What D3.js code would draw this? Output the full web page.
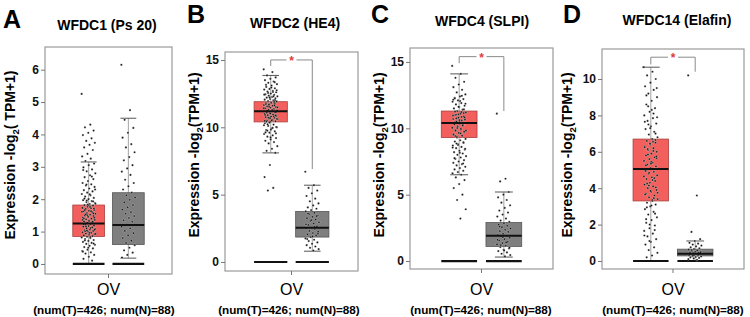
<!DOCTYPE html>
<html>
<head>
<meta charset="utf-8">
<script src="https://cdn.jsdelivr.net/npm/d3@7"></script>
<style>
  html, body { margin: 0; padding: 0; background: #fff; }
  #chart-container { width: 750px; height: 317px; }
</style>
</head>
<body>
<div id="chart-container"></div>
<script>
// =====================
// Data
// =====================
const LETTERS = ["A", "B", "C", "D"];
const TITLES = ["WFDC1 (Ps 20)", "WFDC2 (HE4)", "WFDC4 (SLPI)", "WFDC14 (Elafin)"];
const YLABEL_TAIL = ["( TPM+1)", "(TPM+1)", "(TPM+1)", "(TPM+1)"];
const GROUPS = ["T", "N"];
const CANCER = "OV";
const CAPTION = "(num(T)=426; num(N)=88)";

const Y_DOMAINS = [[-0.31, 6.7], [-0.67, 15.59], [-0.6, 16.05], [-0.44, 11.65]];
const Y_TICKS = [[0, 1, 2, 3, 4, 5, 6], [0, 5, 10, 15], [0, 5, 10, 15], [0, 2, 4, 6, 8, 10]];

// box stats: [lowWhisker, q1, median, q3, highWhisker]
const BOX_T = [[0, 0.85, 1.25, 1.82, 3.15], [8.1, 10.4, 11.2, 11.9, 13.85], [6.5, 9.3, 10.4, 11.3, 14.1], [0, 3.3, 5.05, 6.7, 10.65]];
const BOX_N = [[0.18, 0.6, 1.2, 2.2, 4.5], [0.8, 1.85, 2.55, 3.75, 5.7], [0.3, 1.1, 1.9, 2.9, 5.2], [0, 0.28, 0.4, 0.65, 1.1]];

// significance bracket: [left leg end, top, right leg end] (null = none)
const BRACKETS = [null, [14.55, 15.0, 6.9], [14.9, 15.4, 11.3], [10.8, 11.2, 10.4]];

// jittered sample points
const PTS_A_T = [5.25, 4.3, 4.22, 4.12, 4.05, 3.98, 3.88, 3.8, 3.74, 3.68, 3.6, 3.52, 3.4, 3.32, 3.25, 3.18, 3.1, 3.05, 2.98, 2.92, 2.86, 2.8, 2.74, 2.68, 2.62, 2.56, 2.5, 2.46, 2.42, 2.38, 2.33, 2.28, 2.24, 2.2, 2.16, 2.12, 2.08, 2.04, 2.0, 1.97, 1.94, 1.91, 1.88, 1.85, 1.82, 1.8, 1.77, 1.74, 1.72, 1.7, 1.67, 1.64, 1.62, 1.6, 1.57, 1.55, 1.52, 1.5, 1.48, 1.45, 1.43, 1.4, 1.38, 1.36, 1.33, 1.31, 1.29, 1.27, 1.25, 1.23, 1.21, 1.19, 1.17, 1.15, 1.12, 1.1, 1.08, 1.06, 1.04, 1.02, 1.0, 0.98, 0.96, 0.94, 0.92, 0.9, 0.88, 0.86, 0.84, 0.82, 0.8, 0.77, 0.74, 0.71, 0.68, 0.65, 0.62, 0.59, 0.56, 0.52, 0.48, 0.44, 0.4, 0.36, 0.32, 0.28, 0.22, 0.16, 0.1,
  1.96, 1.86, 1.76, 1.66, 1.56, 1.46, 1.36, 1.26, 1.16, 1.06, 0.96, 1.41, 1.31, 1.51, 1.61, 1.11, 1.01, 1.71, 1.81,
  2.9, 2.7, 2.45, 2.3, 2.15, 2.02, 1.93, 1.83, 1.73, 1.63, 1.53, 1.43, 1.33, 1.23, 1.13, 1.03, 0.93, 0.83, 0.73, 0.63, 0.5, 0.38];
const PTS_A_N = [6.15, 4.75, 4.45, 4.2, 4.05, 3.9, 3.7, 3.6, 3.45, 3.3, 3.2, 3.05, 2.95, 2.85, 2.75, 2.6, 2.5, 2.4, 2.3, 2.2, 2.12, 2.05, 1.98, 1.9, 1.82, 1.75, 1.68, 1.6, 1.55, 1.48, 1.42, 1.35, 1.3, 1.22, 1.15, 1.1, 1.02, 0.95, 0.88, 0.8, 0.72, 0.65, 0.58, 0.5, 0.42, 0.35, 0.28, 0.2];
const PTS_B_T = [14.3, 14.1, 13.85, 13.7, 13.6, 13.5, 13.4, 13.3, 13.2, 13.1, 13.0, 12.9, 12.85, 12.8, 12.7, 12.65, 12.6, 12.5, 12.45, 12.4, 12.35, 12.3, 12.25, 12.2, 12.15, 12.1, 12.05, 12.0, 11.95, 11.9, 11.85, 11.8, 11.75, 11.7, 11.65, 11.6, 11.55, 11.5, 11.45, 11.4, 11.35, 11.3, 11.25, 11.2, 11.15, 11.1, 11.05, 11.0, 10.95, 10.9, 10.85, 10.8, 10.75, 10.7, 10.65, 10.6, 10.55, 10.5, 10.45, 10.4, 10.3, 10.2, 10.1, 10.0, 9.9, 9.8, 9.7, 9.6, 9.5, 9.4, 9.3, 9.2, 9.1, 9.0, 8.9, 8.8, 8.6, 8.4, 8.25, 8.1, 7.2, 6.3, 5.5, 5.3,
  11.92, 11.82, 11.72, 11.62, 11.52, 11.42, 11.32, 11.22, 11.12, 11.02, 10.92, 10.82, 10.72, 10.62, 10.52, 10.42, 12.02, 12.22, 12.42, 12.62, 10.22, 10.02, 9.82, 9.62,
  11.88, 11.68, 11.48, 11.28, 11.08, 10.88, 10.68, 10.48, 12.3, 12.55, 12.75, 12.95, 13.15, 13.35, 10.35, 10.15, 9.95, 9.75, 9.55, 9.25];
const PTS_B_N = [6.7, 5.7, 5.5, 5.3, 5.1, 4.9, 4.7, 4.5, 4.35, 4.2, 4.05, 3.95, 3.85, 3.75, 3.65, 3.55, 3.45, 3.35, 3.25, 3.15, 3.05, 2.95, 2.85, 2.75, 2.65, 2.55, 2.5, 2.45, 2.35, 2.25, 2.15, 2.05, 1.95, 1.85, 1.75, 1.65, 1.55, 1.45, 1.35, 1.25, 1.15, 1.05, 0.95, 0.85,
  3.6, 3.4, 3.1, 2.8, 2.6, 2.3, 2.1, 1.9, 1.7];
const PTS_C_T = [14.7, 14.1, 13.8, 13.5, 13.3, 13.1, 12.9, 12.7, 12.55, 12.4, 12.3, 12.2, 12.1, 12.0, 11.9, 11.8, 11.7, 11.6, 11.5, 11.4, 11.3, 11.2, 11.1, 11.0, 10.9, 10.8, 10.7, 10.6, 10.5, 10.4, 10.35, 10.3, 10.2, 10.1, 10.0, 9.9, 9.8, 9.7, 9.6, 9.5, 9.4, 9.3, 9.2, 9.1, 9.0, 8.9, 8.8, 8.7, 8.6, 8.5, 8.4, 8.3, 8.2, 8.1, 8.0, 7.9, 7.8, 7.7, 7.6, 7.5, 7.4, 7.3, 7.2, 7.1, 7.0, 6.9, 6.8, 6.7, 6.6, 6.5, 6.3, 6.1, 5.8, 5.5, 5.0, 4.6, 3.9, 3.2,
  11.25, 11.15, 11.05, 10.95, 10.85, 10.75, 10.65, 10.55, 10.45, 10.25, 10.15, 10.05, 9.95, 9.85, 9.75, 9.65, 9.55, 9.45, 9.35, 11.85, 12.05, 12.25, 8.95, 8.75, 8.55,
  11.22, 11.02, 10.82, 10.62, 10.42, 10.22, 10.02, 9.82, 9.62, 9.42, 11.42, 11.62, 12.15, 12.45, 8.85, 8.45, 8.15, 7.75, 7.35];
const PTS_C_N = [11.1, 6.2, 6.0, 5.2, 5.0, 4.8, 4.6, 4.4, 4.2, 4.0, 3.8, 3.65, 3.5, 3.35, 3.2, 3.05, 2.95, 2.85, 2.75, 2.65, 2.55, 2.45, 2.35, 2.25, 2.15, 2.05, 1.95, 1.9, 1.85, 1.75, 1.65, 1.55, 1.45, 1.35, 1.25, 1.15, 1.05, 0.95, 0.85, 0.75, 0.65, 0.55, 0.45, 0.35,
  2.6, 2.2, 1.8, 1.6, 1.4, 1.2, 1.0, 0.8];
const PTS_D_T = [10.65, 10.4, 10.2, 10.0, 9.8, 9.6, 9.4, 9.2, 9.0, 8.8, 8.6, 8.4, 8.2, 8.0, 7.85, 7.7, 7.55, 7.4, 7.25, 7.1, 6.95, 6.8, 6.7, 6.6, 6.5, 6.4, 6.3, 6.2, 6.1, 6.0, 5.9, 5.8, 5.7, 5.6, 5.5, 5.4, 5.3, 5.2, 5.1, 5.0, 4.9, 4.8, 4.7, 4.6, 4.5, 4.4, 4.3, 4.2, 4.1, 4.0, 3.9, 3.8, 3.7, 3.6, 3.5, 3.4, 3.3, 3.2, 3.1, 3.0, 2.85, 2.7, 2.55, 2.4, 2.25, 2.1, 1.95, 1.8, 1.65, 1.5, 1.35, 1.2, 1.05, 0.9, 0.75, 0.6, 0.45, 0.3, 0.2,
  6.65, 6.45, 6.25, 6.05, 5.85, 5.65, 5.45, 5.25, 5.05, 4.85, 4.65, 4.45, 4.25, 4.05, 3.85, 3.65, 3.45, 7.5, 7.9, 8.3, 9.1, 2.6, 2.0, 1.4,
  6.55, 6.15, 5.75, 5.35, 4.95, 4.55, 4.15, 3.75, 3.35, 2.95, 7.0, 7.3, 7.65, 8.1, 8.5, 9.5, 3.05, 2.3, 1.7, 1.1];
const PTS_D_N = [10.2, 3.6, 1.6, 1.2, 1.1, 1.0, 0.95, 0.9, 0.85, 0.8, 0.75, 0.7, 0.66, 0.62, 0.58, 0.55, 0.52, 0.5, 0.47, 0.45, 0.43, 0.41, 0.39, 0.37, 0.35, 0.33, 0.31, 0.29, 0.27, 0.25, 0.22, 0.2, 0.17, 0.14, 0.1, 0.06,
  0.6, 0.48, 0.42, 0.38, 0.34, 0.3];

const POINTS = [[PTS_A_T, PTS_A_N], [PTS_B_T, PTS_B_N], [PTS_C_T, PTS_C_N], [PTS_D_T, PTS_D_N]];

// =====================
// Layout
// =====================
const svgWidth = 750;
const svgHeight = 317;
const FONT = "'Liberation Sans', Arial, sans-serif";

// frame boxes per panel: [left, top, right, bottom]
const FRAMES = [[45, 47, 172, 274], [225, 52, 358, 271], [410, 48, 553, 269], [602, 49, 744, 269]];
const LETTER_POS = [[3, 28], [187, 23], [371, 23], [563, 23]];
const TITLE_POS = [[107, 30], [295, 28], [482, 26], [677, 25]];
const YLABEL_X = [15, 199, 384, 572];
const CAPTION_X = [104, 289, 481, 673];

const COLORS = { T: "#f25f5c", N: "#7f7f7f" };

const container = d3.select("#chart-container");
const svg = container.append("svg")
  .attr("width", svgWidth)
  .attr("height", svgHeight)
  .style("font-family", FONT);

svg.append("rect").attr("width", svgWidth).attr("height", svgHeight).attr("fill", "#fff");

const jitter = i => ((i * 0.618034) % 1 - 0.5) * 14;

LETTERS.forEach((letter, p) => {
  const [fx0, fy0, fx1, fy1] = FRAMES[p];
  const g = svg.append("g");

  const y = d3.scaleLinear().domain(Y_DOMAINS[p]).range([fy1, fy0]);
  const x = d3.scaleBand().domain(GROUPS).range([fx0, fx1])
    .paddingInner(0.2).paddingOuter(0.7);
  const bw = x.bandwidth();
  const cx = gname => x(gname) + bw / 2;

  // panel letter + title
  g.append("text")
    .attr("x", LETTER_POS[p][0]).attr("y", LETTER_POS[p][1])
    .attr("font-size", 25).attr("font-weight", 700)
    .text(letter);

  g.append("text")
    .attr("x", TITLE_POS[p][0]).attr("y", TITLE_POS[p][1])
    .attr("text-anchor", "middle")
    .attr("font-size", 14).attr("font-weight", 700)
    .text(TITLES[p]);

  // frame
  g.append("rect")
    .attr("x", fx0).attr("y", fy0)
    .attr("width", fx1 - fx0).attr("height", fy1 - fy0)
    .attr("fill", "none").attr("stroke", "#9a9a9a").attr("stroke-width", 1.2);

  // y axis
  const yAxis = d3.axisLeft(y).tickValues(Y_TICKS[p]).tickFormat(d3.format("d"))
    .tickSize(4).tickPadding(2);
  const yg = g.append("g").attr("transform", `translate(${fx0},0)`).call(yAxis);
  yg.select(".domain").remove();
  yg.selectAll("line").attr("stroke", "#777");
  yg.selectAll("text")
    .attr("font-size", 12).attr("font-weight", 700)
    .attr("font-family", FONT).attr("fill", "#111");

  // x axis (single tick)
  g.append("line")
    .attr("x1", (fx0 + fx1) / 2).attr("x2", (fx0 + fx1) / 2)
    .attr("y1", fy1).attr("y2", fy1 + 4)
    .attr("stroke", "#777");

  g.append("text")
    .attr("x", (fx0 + fx1) / 2).attr("y", 295)
    .attr("text-anchor", "middle").attr("font-size", 16)
    .text(CANCER);

  g.append("text")
    .attr("x", CAPTION_X[p]).attr("y", 314)
    .attr("text-anchor", "middle")
    .attr("font-size", 11.7).attr("font-weight", 700)
    .text(CAPTION);

  // y label
  const yl = g.append("text")
    .attr("transform", `translate(${YLABEL_X[p]},155) rotate(-90)`)
    .attr("text-anchor", "middle")
    .attr("font-size", 14).attr("font-weight", 700);
  yl.append("tspan").text("Expression -log");
  yl.append("tspan").attr("font-size", 9.5).attr("dy", 4).text("2");
  yl.append("tspan").attr("dy", -4).text(YLABEL_TAIL[p]);

  // boxes
  GROUPS.forEach((gname, gi) => {
    const [lo, q1, med, q3, hi] = (gi === 0 ? BOX_T : BOX_N)[p];
    const c = cx(gname);
    const bx = x(gname);

    g.append("line")
      .attr("x1", c).attr("x2", c)
      .attr("y1", y(hi)).attr("y2", y(lo))
      .attr("stroke", "#8a8a8a").attr("stroke-width", 0.8);

    [lo, hi].forEach(v => {
      if (v <= 0) return;
      g.append("line")
        .attr("x1", c - bw / 4).attr("x2", c + bw / 4)
        .attr("y1", y(v)).attr("y2", y(v))
        .attr("stroke", "#555").attr("stroke-width", 1);
    });

    g.append("rect")
      .attr("x", bx).attr("y", y(q3))
      .attr("width", bw).attr("height", y(q1) - y(q3))
      .attr("fill", COLORS[gname])
      .attr("stroke", gi === 0 ? "#a8403e" : "#555").attr("stroke-width", 0.8);

    // baseline bar at zero
    g.append("line")
      .attr("x1", bx).attr("x2", bx + bw)
      .attr("y1", y(0)).attr("y2", y(0))
      .attr("stroke", "#111").attr("stroke-width", 2.2);

    // points
    g.append("g").selectAll("circle")
      .data(POINTS[p][gi])
      .join("circle")
      .attr("cx", (d, i) => c + jitter(i))
      .attr("cy", d => y(d))
      .attr("r", 1.1)
      .attr("fill", "#111")
      .attr("stroke", "#fff").attr("stroke-width", 0.3);

    g.append("line")
      .attr("x1", bx).attr("x2", bx + bw)
      .attr("y1", y(med)).attr("y2", y(med))
      .attr("stroke", "#111").attr("stroke-width", 2);
  });

  // significance bracket
  const br = BRACKETS[p];
  if (br) {
    const xl = cx("T"), xr = cx("N");
    g.append("path")
      .attr("d", `M${xl},${y(br[0])}V${y(br[1])}H${xr}V${y(br[2])}`)
      .attr("fill", "none").attr("stroke", "#8a8a8a").attr("stroke-width", 1);
    g.append("rect")
      .attr("x", (xl + xr) / 2 - 5).attr("y", y(br[1]) - 3)
      .attr("width", 10).attr("height", 6).attr("fill", "#fff");
    g.append("text")
      .attr("x", (xl + xr) / 2).attr("y", y(br[1]) + 5)
      .attr("text-anchor", "middle")
      .attr("font-size", 12).attr("font-weight", 700)
      .attr("fill", "#e03c3c")
      .text("*");
  }
});
</script>
</body>
</html>
